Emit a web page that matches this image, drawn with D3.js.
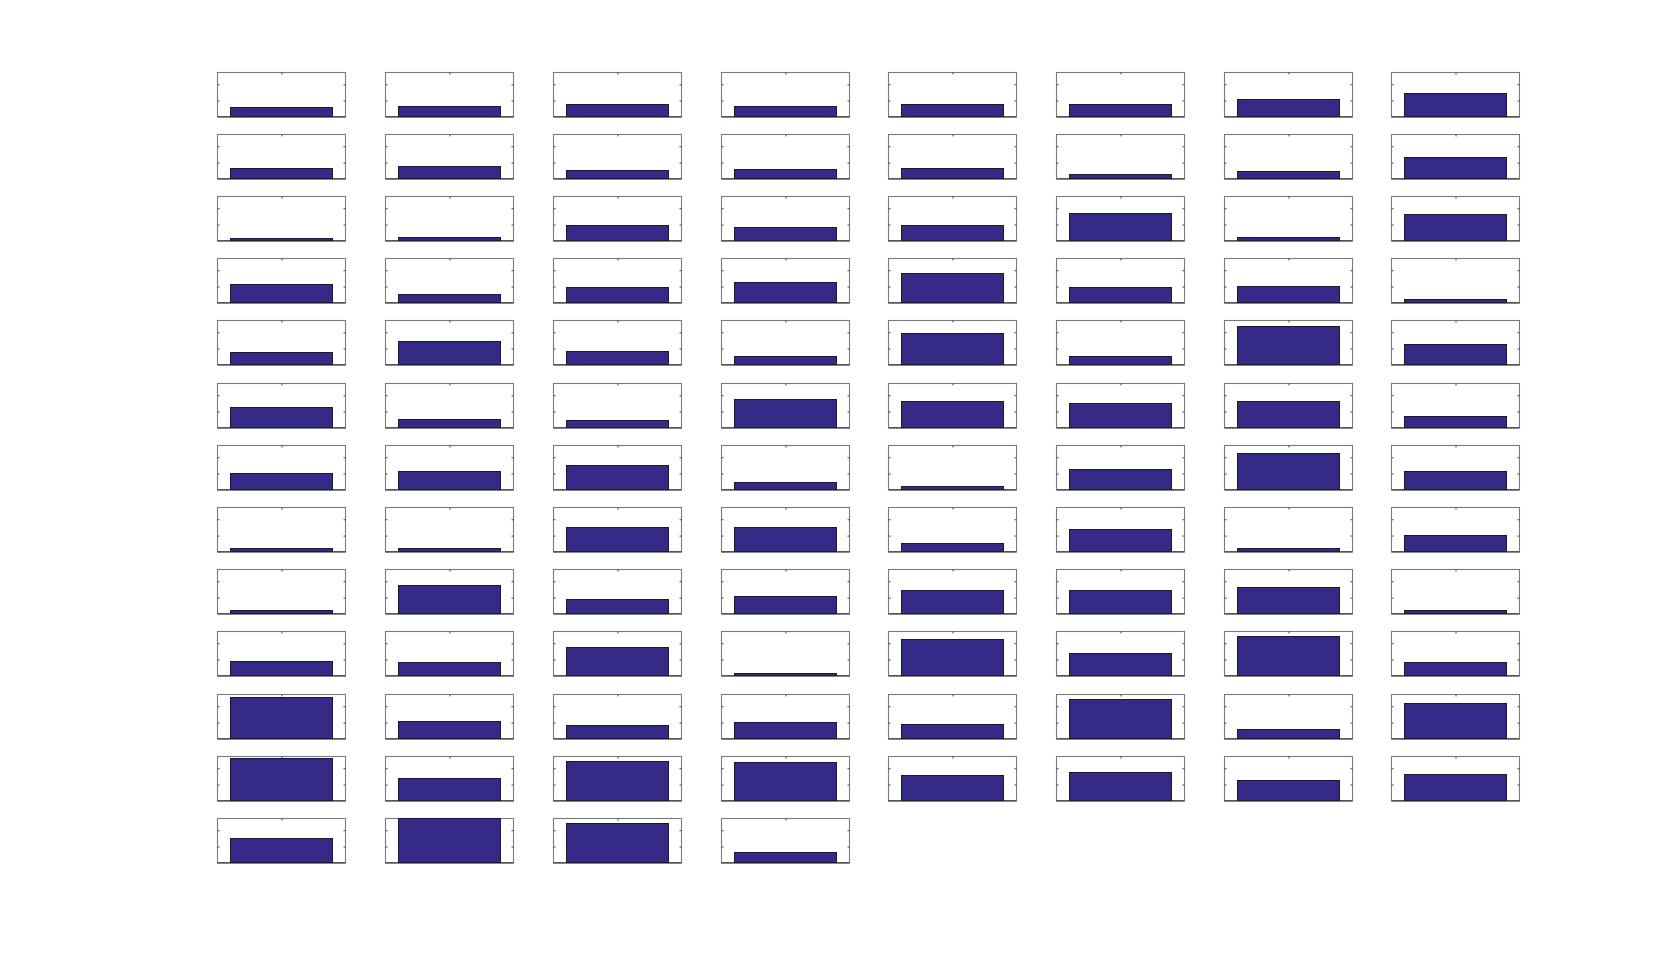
<!DOCTYPE html>
<html>
<head>
<meta charset="utf-8">
<script src="https://cdn.jsdelivr.net/npm/d3@7/dist/d3.min.js"></script>
<style>
  html, body { margin: 0; padding: 0; background: #ffffff; }
  svg { display: block; }
</style>
</head>
<body>
<div id="chart"></div>
<script>
// ---- Data (one bar per subplot, 100 subplots, row-major order) ----
const categories = [1];
const barValues = [
  0.29, 0.31, 0.38, 0.31, 0.39, 0.38, 0.54, 0.73,
  0.33, 0.38, 0.27, 0.29, 0.31, 0.12, 0.23, 0.67,
  0.08, 0.10, 0.48, 0.42, 0.48, 0.84, 0.10, 0.82,
  0.57, 0.27, 0.48, 0.63, 0.91, 0.48, 0.49, 0.11,
  0.38, 0.72, 0.42, 0.26, 0.97, 0.27, 1.17, 0.64,
  0.61, 0.27, 0.24, 0.88, 0.80, 0.76, 0.82, 0.35,
  0.49, 0.56, 0.76, 0.22, 0.11, 0.61, 1.10, 0.56,
  0.11, 0.10, 0.75, 0.76, 0.27, 0.68, 0.10, 0.51,
  0.10, 0.87, 0.44, 0.52, 0.72, 0.72, 0.80, 0.10,
  0.45, 0.41, 0.87, 0.07, 1.13, 0.68, 1.22, 0.42,
  1.28, 0.52, 0.42, 0.49, 0.45, 1.20, 0.29, 1.07,
  1.31, 0.69, 1.21, 1.17, 0.78, 0.87, 0.61, 0.82,
  0.76, 1.36, 1.20, 0.31
];
const xTicks = [1];
const yTicks = [0.5, 1.0];
const xDomain = [0.5, 1.5];
const yDomain = [0, 1.36];
const barWidth = 0.8;

// ---- Layout ----
const W = 1680, H = 970;
const nRows = 13, nCols = 8;
const areaLeft = 0.13 * W, areaRight = 0.905 * W;
const areaTop = 0.075 * H, areaBottom = (1 - 0.11) * H;
const axW = 128, axH = 44.4;
const stepX = (areaRight - areaLeft - axW) / (nCols - 1);
const stepY = (areaBottom - areaTop - axH) / (nRows - 1);

const svg = d3.select("#chart").append("svg")
  .attr("width", W).attr("height", H)
  .style("background", "#ffffff");

const x = d3.scaleLinear().domain(xDomain).range([0, axW]);
const y = d3.scaleLinear().domain(yDomain).range([axH, 0]);

const tickLen = 2;
const boxColor = "#7a7a7a";
const barFill = "#352a87";
const barEdge = "#1a1a2a";

barValues.forEach((v, i) => {
  const r = Math.floor(i / nCols), c = i % nCols;
  const left = Math.floor(areaLeft + c * stepX - 0.5) + 0.5;
  const top = Math.floor(areaTop + r * stepY - 0.5) + 0.5;
  const g = svg.append("g").attr("transform", `translate(${left},${top})`);

  // axes box
  g.append("rect")
    .attr("x", 0).attr("y", 0)
    .attr("width", axW).attr("height", axH)
    .attr("fill", "#ffffff")
    .attr("stroke", boxColor).attr("stroke-width", 1.1);

  // ticks via d3 axes (inward, no labels)
  const axL = d3.axisLeft(y).tickValues(yTicks).tickFormat("").tickSizeInner(-tickLen).tickSizeOuter(0);
  const axR = d3.axisRight(y).tickValues(yTicks).tickFormat("").tickSizeInner(-tickLen).tickSizeOuter(0);
  const axT = d3.axisTop(x).tickValues(xTicks).tickFormat("").tickSizeInner(-tickLen).tickSizeOuter(0);
  const axB = d3.axisBottom(x).tickValues(xTicks).tickFormat("").tickSizeInner(-tickLen).tickSizeOuter(0);
  [[axL, 0, 0], [axR, axW, 0], [axT, 0, 0], [axB, 0, axH]].forEach(([ax, tx, ty]) => {
    const a = g.append("g").attr("transform", `translate(${tx},${ty})`).call(ax);
    a.select(".domain").remove();
    a.selectAll("line").attr("stroke", "#444").attr("stroke-width", 1);
  });

  // bar
  categories.forEach(cat => {
    const x0 = x(cat - barWidth / 2), x1 = x(cat + barWidth / 2);
    g.append("rect")
      .attr("x", Math.round(x0)).attr("y", Math.round(y(v)))
      .attr("width", Math.round(x1) - Math.round(x0))
      .attr("height", Math.round(y(0)) - Math.round(y(v)))
      .attr("fill", barFill)
      .attr("stroke", barEdge).attr("stroke-width", 1);
  });

  // baseline
  g.append("line")
    .attr("x1", x(xDomain[0])).attr("x2", x(xDomain[1]))
    .attr("y1", y(0)).attr("y2", y(0))
    .attr("stroke", "#222").attr("stroke-width", 1);
});
</script>
</body>
</html>
